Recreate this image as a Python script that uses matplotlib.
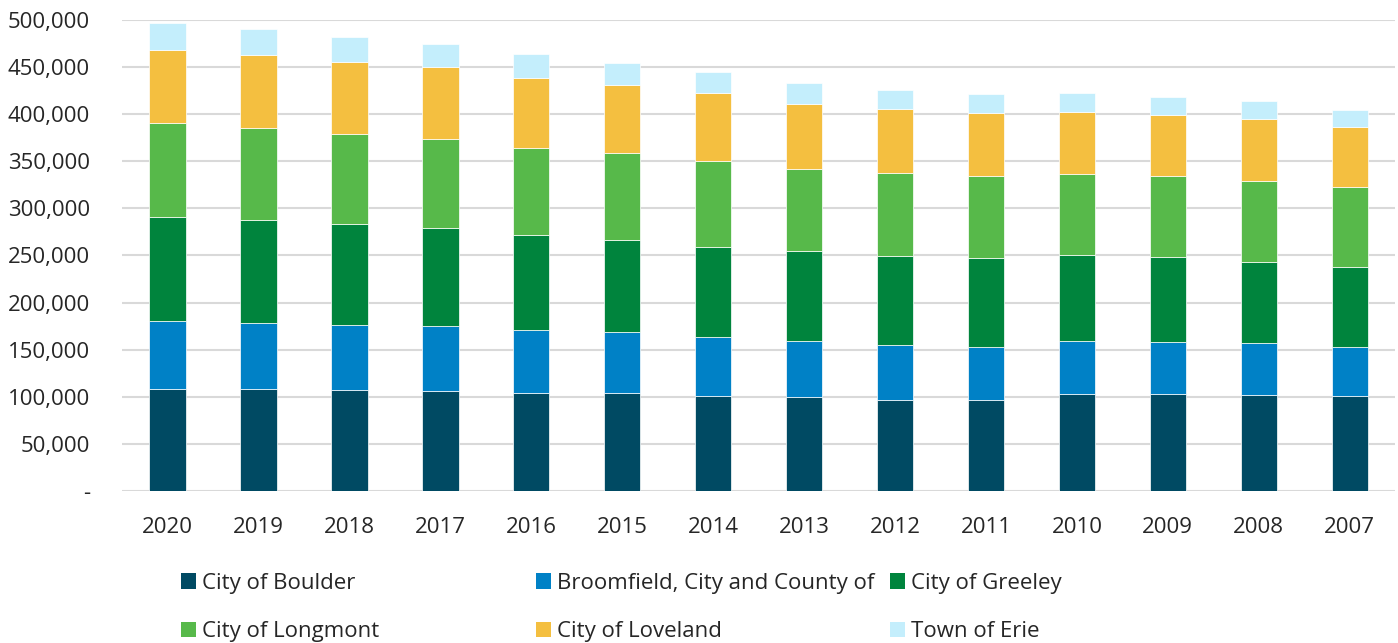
import matplotlib.pyplot as plt
import matplotlib.ticker as mticker
from matplotlib.patches import Patch
import numpy as np

plt.rcParams['font.family'] = ['Open Sans', 'DejaVu Sans']

years = ['2020', '2019', '2018', '2017', '2016', '2015', '2014',
         '2013', '2012', '2011', '2010', '2009', '2008', '2007']

# values (approximate)
boulder = [108000, 107900, 106900, 106500, 104400, 104400, 101200,
           100100, 97000, 96300, 103300, 103300, 102300, 101200]
broomfield = [72000, 70100, 69300, 68700, 66200, 64000, 61900,
              58800, 57700, 57000, 55600, 55200, 54500, 52000]
greeley = [111000, 110000, 107600, 104400, 101200, 98400, 96300,
           95900, 95200, 94500, 91600, 90200, 86700, 84900]
longmont = [99500, 97700, 95500, 94100, 92700, 92000, 90600,
            87000, 88100, 87000, 86300, 86000, 85600, 84600]
loveland = [77500, 77100, 76400, 76800, 73900, 72200, 72500,
            69000, 67600, 66500, 65500, 64400, 65800, 64000]
erie = [29000, 28000, 26200, 24400, 25500, 23000, 22300,
        22300, 20500, 19800, 19800, 19100, 19100, 18000]

series = [
    ('City of Boulder', boulder, '#004a63'),
    ('Broomfield, City and County of', broomfield, '#0081c6'),
    ('City of Greeley', greeley, '#00843d'),
    ('City of Longmont', longmont, '#57b94a'),
    ('City of Loveland', loveland, '#f4bf40'),
    ('Town of Erie', erie, '#c4eefc'),
]

fig = plt.figure(figsize=(13.98, 6.43), dpi=100)
ax = fig.add_axes([0.0873, 0.2364, 0.9107, 0.7325])

x = np.arange(len(years))
bottom = np.zeros(len(years))
handles = []
for name, vals, col in series:
    ax.bar(x, vals, width=0.4, bottom=bottom, color=col,
           edgecolor='white', linewidth=0.5, zorder=3)
    bottom += np.array(vals)
    handles.append(Patch(facecolor=col, label=name))

ax.set_xlim(-0.5, len(years) - 0.5)
ax.set_ylim(0, 500000)
ax.set_yticks(np.arange(0, 500001, 50000))
ax.yaxis.set_major_formatter(mticker.FuncFormatter(
    lambda v, p: '-' if v == 0 else f'{int(v):,}'))
ax.set_xticks(x)
ax.set_xticklabels(years)
ax.grid(axis='y', color='#d9d9d9', linewidth=1.5, zorder=0)
for s in ax.spines.values():
    s.set_visible(False)
ax.tick_params(axis='both', length=0, labelsize=16, colors='#262626')
ax.tick_params(axis='x', pad=19)
ax.tick_params(axis='y', pad=23)

# three single-column legends, laid out like the original's equal columns
col_x = [0.1295, 0.3834, 0.6366]
for i, cx in enumerate(col_x):
    leg = fig.legend(handles=[handles[i], handles[i + 3]], loc='upper left',
                     bbox_to_anchor=(cx, 0.109), frameon=False, fontsize=16,
                     handlelength=0.68, handleheight=0.68, handletextpad=0.27,
                     labelspacing=1.23, borderaxespad=0, borderpad=0)
    for t in leg.get_texts():
        t.set_color('#262626')

fig.savefig('out.png', dpi=100)
